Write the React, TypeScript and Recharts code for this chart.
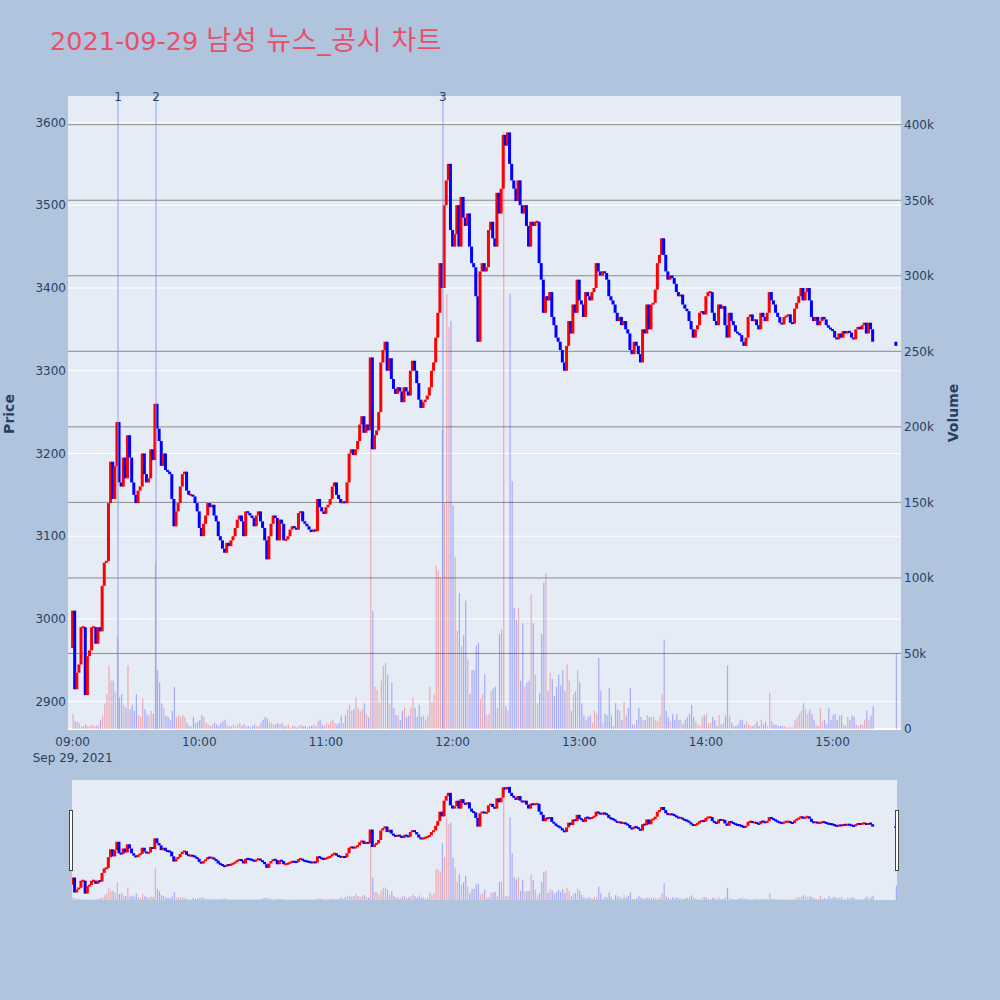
import React from "react";
import {
  ComposedChart,
  Bar,
  XAxis,
  YAxis,
  CartesianGrid,
  ReferenceLine,
} from "recharts";

// minute closes from 09:00 (index = minutes after open), 09:00 ~ 15:19
const closes = [
  3010, 2915, 2935, 2945, 2990, 2990, 2908, 2955, 2962, 2990, 2990, 2970, 2990, 2985, 3040, 3068, 3070, 3140, 3190, 3145,
  3185, 3238, 3165, 3160, 3195, 3170, 3222, 3195, 3165, 3150, 3140, 3155, 3160, 3200, 3175, 3165, 3170, 3205, 3192, 3260,
  3230, 3215, 3185, 3200, 3180, 3178, 3175, 3145, 3112, 3130, 3140, 3160, 3175, 3178, 3155, 3150, 3150, 3148, 3140, 3130,
  3110, 3100, 3115, 3125, 3140, 3135, 3138, 3125, 3118, 3100, 3095, 3085, 3080, 3092, 3088, 3095, 3100, 3110, 3120, 3125,
  3118, 3100, 3130, 3128, 3125, 3122, 3112, 3125, 3130, 3118, 3110, 3095, 3072, 3100, 3115, 3125, 3122, 3095, 3120, 3115,
  3095, 3096, 3100, 3108, 3112, 3110, 3108, 3128, 3130, 3118, 3115, 3112, 3108, 3105, 3108, 3106, 3145, 3135, 3130, 3127,
  3135, 3138, 3145, 3160, 3165, 3150, 3145, 3140, 3142, 3140, 3165, 3200, 3205, 3198, 3205, 3215, 3235, 3245, 3225, 3235,
  3228, 3316, 3205, 3222, 3228, 3250, 3310, 3325, 3335, 3300, 3315, 3290, 3278, 3272, 3280, 3275, 3262, 3280, 3275, 3270,
  3300, 3312, 3300, 3285, 3265, 3255, 3262, 3265, 3270, 3280, 3300, 3310, 3340, 3370, 3430, 3400, 3500, 3530, 3550, 3470,
  3450, 3465, 3500, 3450, 3510, 3485, 3475, 3490, 3450, 3430, 3425, 3390, 3335, 3420, 3430, 3420, 3425, 3470, 3480, 3460,
  3450, 3515, 3490, 3520, 3585, 3572, 3588, 3550, 3530, 3520, 3505, 3530, 3500, 3490, 3500, 3475, 3450, 3480, 3475, 3480,
  3480, 3430, 3410, 3370, 3390, 3385, 3395, 3365, 3355, 3340, 3335, 3325, 3310, 3300, 3330, 3360, 3345, 3380, 3370, 3410,
  3385, 3380, 3365, 3395, 3390, 3385, 3395, 3400, 3430, 3420, 3415, 3420, 3418, 3410, 3390, 3385, 3380, 3370, 3360, 3365,
  3355, 3360, 3350, 3345, 3325, 3320, 3335, 3330, 3320, 3310, 3350, 3345, 3380, 3350, 3380, 3382, 3398, 3430, 3440, 3460,
  3440, 3420, 3410, 3415, 3412, 3405, 3395, 3390, 3392, 3380, 3375, 3372, 3360, 3350, 3340, 3350, 3355, 3370, 3372, 3368,
  3390, 3395, 3395, 3370, 3360, 3355, 3380, 3375, 3378, 3355, 3340, 3370, 3360, 3355, 3347, 3345, 3343, 3335, 3330, 3340,
  3365, 3368, 3360, 3362, 3355, 3350, 3370, 3365, 3360, 3370, 3395, 3385, 3380, 3370, 3365, 3358, 3356, 3365, 3366, 3368,
  3358, 3357, 3375, 3382, 3390, 3400, 3385, 3395, 3400, 3385, 3365, 3360, 3365, 3355, 3360, 3365, 3362, 3355, 3352, 3350,
  3348, 3340, 3338, 3345, 3340, 3348, 3345, 3348, 3346, 3340, 3338, 3350, 3353, 3350, 3355, 3358, 3345, 3358, 3350, 3335,
];

// minute volumes, in thousands of shares
const volumesK = [
  10, 5, 5, 4, 2, 2, 3, 2, 2, 3, 2, 2, 3, 6, 9, 17, 23, 42, 32, 32,
  25, 61, 21, 23, 16, 14, 42, 13, 16, 12, 23, 9, 8, 20, 13, 10, 9, 12, 10, 110,
  39, 31, 17, 14, 9, 8, 6, 12, 28, 8, 9, 8, 9, 8, 4, 2, 2, 8, 4, 5,
  6, 9, 8, 4, 3, 2, 3, 4, 3, 2, 4, 5, 6, 3, 2, 2, 3, 2, 3, 4,
  2, 3, 2, 2, 1, 2, 3, 2, 2, 4, 6, 8, 7, 5, 4, 3, 3, 4, 3, 4,
  2, 2, 3, 1, 2, 2, 1, 2, 3, 2, 2, 1, 2, 2, 3, 2, 5, 6, 3, 2,
  4, 3, 5, 6, 4, 3, 4, 9, 4, 9, 13, 16, 12, 13, 21, 14, 12, 13, 17, 10,
  8, 192, 78, 28, 26, 18, 32, 42, 44, 36, 17, 31, 14, 9, 9, 6, 12, 14, 8, 9,
  14, 21, 14, 8, 16, 8, 9, 6, 9, 28, 18, 23, 108, 105, 100, 198, 150, 288, 266, 270,
  148, 114, 65, 90, 55, 62, 85, 46, 23, 39, 39, 55, 57, 20, 23, 36, 9, 10, 25, 27,
  28, 14, 63, 66, 395, 15, 12, 288, 164, 80, 72, 80, 32, 70, 28, 31, 32, 89, 70, 36,
  17, 24, 63, 97, 103, 25, 37, 33, 22, 28, 36, 29, 39, 25, 43, 32, 12, 23, 25, 39,
  31, 17, 9, 6, 8, 9, 4, 12, 10, 47, 25, 4, 10, 9, 27, 9, 2, 17, 13, 12,
  6, 18, 9, 14, 27, 3, 3, 6, 14, 8, 6, 6, 9, 8, 8, 8, 6, 5, 9, 23,
  59, 12, 8, 5, 10, 6, 10, 6, 6, 3, 6, 8, 10, 16, 8, 5, 3, 2, 8, 9,
  10, 4, 4, 8, 6, 2, 9, 3, 4, 9, 42, 9, 4, 2, 2, 3, 6, 6, 3, 5,
  3, 2, 2, 3, 5, 2, 6, 3, 5, 2, 24, 5, 3, 3, 2, 2, 2, 2, 1, 1,
  1, 1, 6, 8, 10, 12, 17, 13, 10, 13, 10, 6, 3, 2, 14, 5, 6, 3, 14, 6,
  9, 10, 6, 9, 9, 3, 2, 8, 6, 9, 8, 3, 2, 3, 3, 6, 12, 6, 9, 15,
];

const firstOpen = 2965;
const closingAuction = { minute: 390, close: 3330, volumeK: 50 };

const newsEvents = [
  { minute: 21.5, label: "1" },
  { minute: 39.5, label: "2" },
  { minute: 175.4, label: "3" },
];

const priceTicks = [2900, 3000, 3100, 3200, 3300, 3400, 3500, 3600];
const volumeTicks = [0, 50000, 100000, 150000, 200000, 250000, 300000, 350000, 400000];
const timeTicks = [0, 60, 120, 180, 240, 300, 360];
const timeLabels = ["09:00", "10:00", "11:00", "12:00", "13:00", "14:00", "15:00"];
const dateLabel = "Sep 29, 2021";
const titleDate = "2021-09-29";
const titleText = "남성 뉴스_공시 차트";

const RED = "#ff0000";
const BLUE = "#0000ff";
const TEXT = "#2a3f5f";
const FONT = "'DejaVu Sans', 'Noto Sans CJK KR', sans-serif";
const PLOT_BG = "#e5ecf6";

const PRICE_DOMAIN: [number, number] = [2867, 3632];
const VOL_DOMAIN: [number, number] = [0, 419000];

type Candle = {
  t: number;
  body: [number, number];
  volume: number;
  up: boolean;
};

const candles: Candle[] = [];
closes.forEach((c, i) => {
  const o = i === 0 ? firstOpen : closes[i - 1];
  candles.push({
    t: i,
    body: [Math.min(o, c), Math.max(o, c)],
    volume: volumesK[i] * 1000,
    up: c >= o,
  });
});
{
  const o = closes[closes.length - 1];
  const c = closingAuction.close;
  candles.push({
    t: closingAuction.minute,
    body: [Math.min(o, c), Math.max(o, c)],
    volume: closingAuction.volumeK * 1000,
    up: c >= o,
  });
}

// candle body drawn a bit wider than the minute band, like the plotly candles
const makeCandleShape = (bodyWidth: number) => (props: any) => {
  const { x, y, width, height, payload } = props;
  if (x == null || y == null) return null;
  const raw = Math.abs(height || 0);
  const top = height < 0 ? y + height : y;
  const h = Math.max(raw, 2);
  const cx = x + (width || 0) / 2;
  return (
    <rect
      x={cx - bodyWidth / 2}
      y={top - (h - raw) / 2}
      width={bodyWidth}
      height={h}
      fill={payload.up ? RED : BLUE}
    />
  );
};

const VolumeShape = (props: any) => {
  const { x, y, width, height, payload } = props;
  if (x == null || y == null) return null;
  const top = height < 0 ? y + height : y;
  const cx = x + (width || 0) / 2;
  return (
    <rect
      x={cx - 0.6}
      y={top}
      width={1.2}
      height={Math.abs(height || 0)}
      fill={payload.up ? RED : BLUE}
      fillOpacity={0.28}
    />
  );
};

const TimeTick = (props: any) => {
  const { x, y, payload } = props;
  const idx = timeTicks.indexOf(payload.value);
  return (
    <g>
      <text x={x} y={y + 17} textAnchor="middle" fontSize={12} fill={TEXT} fontFamily={FONT}>
        {timeLabels[idx]}
      </text>
      {idx === 0 && (
        <text x={x} y={y + 33} textAnchor="middle" fontSize={12} fill={TEXT} fontFamily={FONT}>
          {dateLabel}
        </text>
      )}
    </g>
  );
};

const tickStyle = { fontSize: 12, fill: TEXT, fontFamily: FONT };

const MainCandle = makeCandleShape(3);
const SliderCandle = makeCandleShape(3);

const MainChart = () => (
  <ComposedChart
    width={1000}
    height={780}
    data={candles}
    margin={{ top: 96, right: 39, bottom: 11, left: 8 }}
  >
    <XAxis
      xAxisId="p"
      dataKey="t"
      type="number"
      domain={[-2.2, 392.4]}
      ticks={timeTicks}
      tick={<TimeTick />}
      tickLine={false}
      axisLine={false}
      tickSize={0}
      tickMargin={0}
      height={40}
      allowDataOverflow
    />
    <XAxis xAxisId="v" dataKey="t" type="number" domain={[-2.2, 392.4]} hide allowDataOverflow />
    <YAxis
      yAxisId="price"
      orientation="left"
      type="number"
      domain={PRICE_DOMAIN}
      ticks={priceTicks}
      width={60}
      tick={tickStyle}
      tickLine={false}
      axisLine={false}
      tickSize={0}
      tickMargin={2}
      allowDataOverflow
    />
    <YAxis
      yAxisId="vol"
      orientation="right"
      type="number"
      domain={VOL_DOMAIN}
      ticks={volumeTicks}
      tickFormatter={(v: number) => (v === 0 ? "0" : `${v / 1000}k`)}
      width={60}
      tick={{ ...tickStyle, textAnchor: "start" }}
      tickLine={false}
      axisLine={false}
      tickSize={0}
      tickMargin={3}
      allowDataOverflow
    />
    <CartesianGrid
      xAxisId="p"
      yAxisId="price"
      vertical={false}
      horizontalValues={priceTicks}
      stroke="#ffffff"
      strokeWidth={1}
      fill={PLOT_BG}
      fillOpacity={1}
    />
    <CartesianGrid
      xAxisId="v"
      yAxisId="vol"
      vertical={false}
      horizontalValues={volumeTicks.filter((v) => v > 0)}
      stroke="#8a8a8a"
      strokeWidth={1}
    />
    <CartesianGrid
      xAxisId="v"
      yAxisId="vol"
      vertical={false}
      horizontalValues={[0]}
      stroke="#ffffff"
      strokeWidth={2}
    />
    <Bar
      xAxisId="v"
      yAxisId="vol"
      dataKey="volume"
      barSize={1}
      shape={<VolumeShape />}
      isAnimationActive={false}
    />
    <Bar
      xAxisId="p"
      yAxisId="price"
      dataKey="body"
      barSize={2}
      shape={<MainCandle />}
      isAnimationActive={false}
    />
    {newsEvents.map((e) => (
      <ReferenceLine
        key={e.label}
        xAxisId="p"
        yAxisId="price"
        x={e.minute}
        stroke="#7f98ee"
        strokeOpacity={0.6}
        strokeWidth={1.5}
        label={{ value: e.label, position: "top", offset: -5, fill: TEXT, fontSize: 12, fontFamily: FONT }}
      />
    ))}
  </ComposedChart>
);

const SliderChart = () => (
  <ComposedChart width={825} height={120} data={candles} margin={{ top: 0, right: 0, bottom: 0, left: 0 }}>
    <XAxis xAxisId="p" dataKey="t" type="number" domain={[-0.25, 390.5]} hide allowDataOverflow />
    <XAxis xAxisId="v" dataKey="t" type="number" domain={[-0.25, 390.5]} hide allowDataOverflow />
    <YAxis yAxisId="price" type="number" domain={PRICE_DOMAIN} hide allowDataOverflow />
    <YAxis yAxisId="vol" type="number" domain={VOL_DOMAIN} hide allowDataOverflow />
    <Bar
      xAxisId="v"
      yAxisId="vol"
      dataKey="volume"
      barSize={1}
      shape={<VolumeShape />}
      isAnimationActive={false}
    />
    <Bar
      xAxisId="p"
      yAxisId="price"
      dataKey="body"
      barSize={2}
      shape={<SliderCandle />}
      isAnimationActive={false}
    />
  </ComposedChart>
);

const handleStyle = (left: number): React.CSSProperties => ({
  position: "absolute",
  left,
  top: 810,
  width: 4,
  height: 61,
  boxSizing: "border-box",
  border: "1px solid #444",
  background: "#ffffff",
});

export default function App() {
  return (
    <div
      style={{
        position: "absolute",
        left: 0,
        top: 0,
        width: 1000,
        height: 1000,
        background: "#b0c4de",
        overflow: "hidden",
      }}
    >
      <div style={{ position: "absolute", left: 0, top: 0 }}>
        <MainChart />
      </div>
      <div style={{ position: "absolute", left: 72, top: 780, width: 825, height: 120, background: PLOT_BG }}>
        <SliderChart />
      </div>
      <div style={handleStyle(69)} />
      <div style={handleStyle(895)} />
      <svg
        width={1000}
        height={1000}
        style={{ position: "absolute", left: 0, top: 0, pointerEvents: "none" }}
      >
        <text x={50} y={50} fontSize={25.5} fill="#e8506a" fontFamily={FONT}>
          {titleDate}{" "}
          <tspan fontSize={27} letterSpacing={0.6}>
            {titleText}
          </tspan>
        </text>
        <text
          x={9}
          y={414}
          transform="rotate(-90, 9, 414)"
          textAnchor="middle"
          dominantBaseline="central"
          fontSize={14}
          fontWeight="bold"
          fill={TEXT}
          fontFamily={FONT}
        >
          Price
        </text>
        <text
          x={953}
          y={413}
          transform="rotate(-90, 953, 413)"
          textAnchor="middle"
          dominantBaseline="central"
          fontSize={14}
          fontWeight="bold"
          fill={TEXT}
          fontFamily={FONT}
        >
          Volume
        </text>
      </svg>
    </div>
  );
}
